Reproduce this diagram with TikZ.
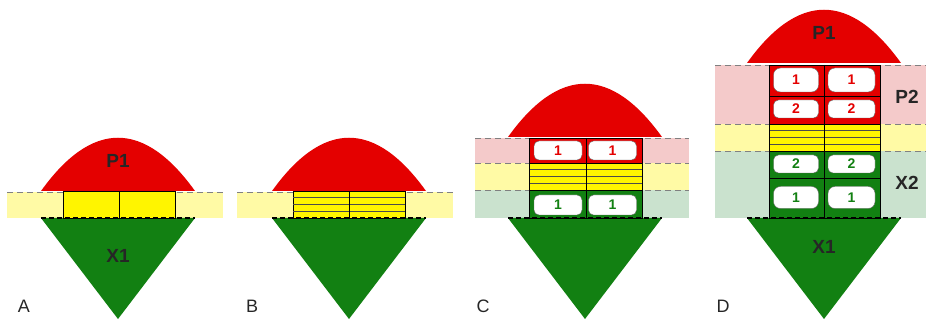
\documentclass[tikz,border=0pt]{standalone}
\usepackage{fontspec}
\setmainfont{Liberation Sans}

\definecolor{domered}{RGB}{228,0,0}
\definecolor{rootgreen}{RGB}{18,128,18}
\definecolor{brightyellow}{RGB}{255,245,0}
\definecolor{paleyellow}{RGB}{255,250,165}
\definecolor{palepink}{RGB}{244,202,202}
\definecolor{palegreen}{RGB}{202,226,206}

\begin{document}
\begin{tikzpicture}[x=1pt, y=-1pt,
    regionname/.style={font=\bfseries\fontsize{19}{19}\selectfont, text=black!85},
    panelname/.style={font=\fontsize{18}{18}\selectfont, text=black!85},
    cell/.style={draw=black!60, fill=white, rounded corners=5pt, inner sep=0pt,
                 font=\bfseries\fontsize{14}{14}\selectfont},
    bandedge/.style={gray, dash pattern=on 6pt off 4pt, line width=0.8pt},
    seam/.style={black, dash pattern=on 5pt off 3pt, line width=1.5pt},
    stripe/.style={black!70, line width=0.6pt}]
    \useasboundingbox (0, 0) rectangle (926, 320);

    % pale bands behind the columns
    \fill[paleyellow] (7, 192) rectangle (223, 218);
    \fill[paleyellow] (237, 192) rectangle (453, 218);
    \fill[palepink] (475, 138) rectangle (689, 163);
    \fill[paleyellow] (475, 163) rectangle (689, 190);
    \fill[palegreen] (475, 190) rectangle (689, 218);
    \fill[palepink] (715, 65) rectangle (926, 124);
    \fill[paleyellow] (715, 124) rectangle (926, 151);
    \fill[palegreen] (715, 151) rectangle (926, 218);
    \foreach \xa/\xb/\yy in {7/223/192, 237/453/192, 475/689/138, 475/689/163,
                             475/689/190, 715/926/65, 715/926/124, 715/926/151}
        \draw[bandedge] (\xa, \yy) -- (\xb, \yy);

    % domes and roots
    \foreach \cx/\by in {118/191, 349/191, 585/137, 824/63}
        \fill[domered] (\cx-77, \by) .. controls (\cx-26, \by-71) and (\cx+26, \by-71) .. (\cx+77, \by) -- cycle;
    \foreach \cx in {118, 349, 585, 824}
        \fill[rootgreen] (\cx-77, 218) -- (\cx+77, 218) -- (\cx, 319) -- cycle;

    % A
    \filldraw[fill=brightyellow, draw=black, thin] (63, 191) rectangle (175, 218);
    \draw[thin] (119, 191) -- (119, 218);

    % B
    \filldraw[fill=brightyellow, draw=black, thin] (293, 191) rectangle (405, 218);
    \foreach \k in {1, 2, 3}
        \draw[stripe] (293, 191+\k*27/4) -- (405, 191+\k*27/4);
    \draw[thin] (349, 191) -- (349, 218);

    % C
    \fill[domered] (529, 138) rectangle (642, 163);
    \fill[brightyellow] (529, 163) rectangle (642, 190);
    \fill[rootgreen] (529, 190) rectangle (642, 218);
    \foreach \k in {1, 2, 3}
        \draw[stripe] (529, 163+\k*27/4) -- (642, 163+\k*27/4);
    \draw[thin] (529, 138) rectangle (642, 218);
    \draw[thin] (586, 138) -- (586, 218);
    \draw[thin] (529, 163) -- (642, 163);
    \draw[thin] (529, 190) -- (642, 190);
    \node[cell, text=domered, minimum width=48pt, minimum height=19pt] at (558, 150.5) (c-p-l) {1};
    \node[cell, text=domered, minimum width=48pt, minimum height=19pt] at (612.5, 150.5) (c-p-r) {1};
    \node[cell, text=rootgreen, minimum width=48pt, minimum height=20pt] at (558, 205) (c-x-l) {1};
    \node[cell, text=rootgreen, minimum width=48pt, minimum height=20pt] at (612.5, 205) (c-x-r) {1};

    % D
    \fill[domered] (769, 65) rectangle (880, 124);
    \fill[brightyellow] (769, 124) rectangle (880, 151);
    \fill[rootgreen] (769, 151) rectangle (880, 218);
    \foreach \k in {1, 2, 3}
        \draw[stripe] (769, 124+\k*27/4) -- (880, 124+\k*27/4);
    \draw[thin] (769, 65) rectangle (880, 218);
    \draw[thin] (824, 65) -- (824, 218);
    \foreach \yy in {96, 124, 151, 178}
        \draw[thin] (769, \yy) -- (880, \yy);
    \node[cell, text=domered, rounded corners=7pt, minimum width=45pt, minimum height=24pt] at (796, 80) (d-p1-l) {1};
    \node[cell, text=domered, rounded corners=7pt, minimum width=47pt, minimum height=24pt] at (851.5, 80) (d-p1-r) {1};
    \node[cell, text=domered, minimum width=45pt, minimum height=18pt] at (796, 109) (d-p2-l) {2};
    \node[cell, text=domered, minimum width=47pt, minimum height=18pt] at (851.5, 109) (d-p2-r) {2};
    \node[cell, text=rootgreen, minimum width=45pt, minimum height=18pt] at (796, 164) (d-x2-l) {2};
    \node[cell, text=rootgreen, minimum width=47pt, minimum height=18pt] at (851.5, 164) (d-x2-r) {2};
    \node[cell, text=rootgreen, rounded corners=7pt, minimum width=45pt, minimum height=22pt] at (796, 197.5) (d-x1-l) {1};
    \node[cell, text=rootgreen, rounded corners=7pt, minimum width=47pt, minimum height=22pt] at (851.5, 197.5) (d-x1-r) {1};

    % seams where the roots meet the bands
    \foreach \cx in {118, 349, 585, 824}
        \draw[seam] (\cx-77, 218) -- (\cx+77, 218);

    \node[regionname] at (118, 161) (a-p1) {P1};
    \node[regionname] at (118, 256) (a-x1) {X1};
    \node[regionname] at (824, 33) (d-p1) {P1};
    \node[regionname] at (824, 247) (d-x1) {X1};
    \node[regionname] at (907, 97) (d-p2) {P2};
    \node[regionname] at (907, 183) (d-x2) {X2};

    \node[panelname] at (24, 306) (pa) {A};
    \node[panelname] at (252, 306) (pb) {B};
    \node[panelname] at (483, 306) (pc) {C};
    \node[panelname] at (723, 306) (pd) {D};
\end{tikzpicture}
\end{document}
